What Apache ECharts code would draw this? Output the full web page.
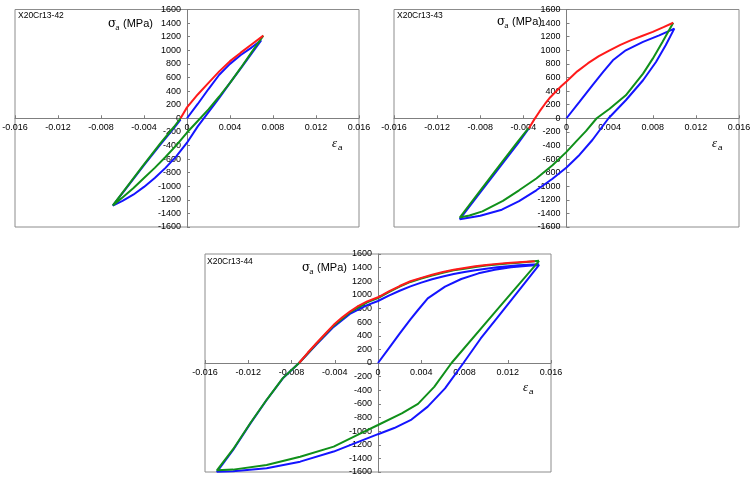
<!DOCTYPE html>
<html>
<head>
<meta charset="utf-8">
<script src="https://cdn.jsdelivr.net/npm/echarts@6/dist/echarts.min.js"></script>
<style>
html, body { margin: 0; padding: 0; background: #fff; }
#myChart { width: 755px; height: 482px; }
</style>
</head>
<body>
<div id="myChart"></div>
<script>
// specimen names
var titles = ['X20Cr13-42', 'X20Cr13-43', 'X20Cr13-44'];

// [strain, stress MPa]
var blue42 = [[0,0],[0.001,210],[0.002,430],[0.003,640],[0.004,800],[0.005,930],[0.006,1040],[0.0069,1145],
  [0.006,950],[0.005,735],[0.004,520],[0.003,300],[0.002,90],[0.001,-120],[0,-360],[-0.001,-560],[-0.002,-730],
  [-0.003,-880],[-0.004,-1010],[-0.005,-1125],[-0.006,-1215],[-0.0069,-1285],
  [-0.0055,-1000],[-0.004,-690],[-0.0025,-390],[-0.0012,-140],[-0.0006,-20]];
var green42 = [[0.0071,1215],[0.006,970],[0.005,740],[0.004,520],[0.003,320],[0.002,130],[0.001,-40],[0,-210],
  [-0.001,-400],[-0.002,-570],[-0.003,-730],[-0.004,-880],[-0.005,-1030],[-0.006,-1165],[-0.0069,-1282],
  [-0.0055,-990],[-0.004,-680],[-0.0025,-375],[-0.0012,-125],[-0.0006,0]];
var red42 = [[-0.0006,0],[0,160],[0.001,350],[0.002,520],[0.003,690],[0.004,840],[0.005,965],[0.006,1085],[0.0071,1215]];

var blue43 = [[0,0],[0.0012,240],[0.0024,485],[0.0034,681],[0.0043,853],[0.0055,1000],[0.0071,1123],[0.0086,1220],[0.0100,1319],
  [0.0092,1074],[0.0083,828],[0.0071,559],[0.0055,265],[0.0039,0],[0.0024,-320],[0.0012,-540],[0,-725],
  [-0.0013,-890],[-0.0028,-1060],[-0.0044,-1220],[-0.006,-1345],[-0.008,-1435],[-0.0099,-1485],
  [-0.008,-1090],[-0.006,-680],[-0.0045,-370],[-0.0035,-150]];
var green43 = [[0.0099,1405],[0.0089,1123],[0.008,877],[0.0071,657],[0.0055,338],[0.004,140],[0.0028,0],[0.0018,-190],
  [0.0009,-340],[0,-495],[-0.0013,-691],[-0.0028,-887],[-0.0044,-1060],[-0.0059,-1215],[-0.0078,-1370],[-0.009,-1430],[-0.0099,-1460],
  [-0.008,-1065],[-0.006,-650],[-0.0045,-340],[-0.0035,-140]];
var red43 = [[-0.0035,-150],[-0.003,-20],[-0.0025,100],[-0.002,210],[-0.0015,310],[-0.001,390],[-0.0005,470],[0,540],
  [0.001,690],[0.002,810],[0.003,915],[0.004,1000],[0.005,1080],[0.006,1150],[0.007,1210],[0.008,1270],[0.009,1340],[0.0099,1405]];

var blue44 = [[0,0],[0.001,215],[0.002,430],[0.003,640],[0.0037,778],[0.0046,949],[0.0062,1120],[0.0077,1233],[0.0093,1316],
  [0.0108,1370],[0.0123,1404],[0.0139,1428],[0.0149,1440],
  [0.013,1060],[0.011,660],[0.0095,360],[0.0079,0],[0.0062,-372],[0.0046,-640],[0.0031,-830],[0.0015,-955],[0,-1045],
  [-0.0017,-1150],[-0.0041,-1300],[-0.0072,-1448],[-0.0103,-1546],[-0.0134,-1590],[-0.0149,-1597],
  [-0.0134,-1277],[-0.0118,-886],[-0.0103,-543],[-0.0088,-225],[-0.0073,0],
  [-0.0057,270],[-0.0041,530],[-0.0026,720],[-0.001,850],[0,910],[0.001,990],[0.002,1060],[0.003,1125],[0.004,1180],
  [0.005,1230],[0.006,1270],[0.007,1305],[0.008,1335],[0.009,1360],[0.010,1385],[0.011,1405],[0.012,1420],[0.013,1435],[0.0149,1450]];
var green44 = [[0.0149,1500],[0.011,780],[0.0068,0],[0.0052,-350],[0.0037,-600],[0.0022,-740],[0,-910],
  [-0.0017,-1040],[-0.0041,-1228],[-0.0072,-1375],[-0.0103,-1497],[-0.0134,-1565],[-0.0149,-1575],
  [-0.0134,-1265],[-0.0118,-880],[-0.0103,-540],[-0.0088,-222],[-0.0073,0],
  [-0.0057,282],[-0.0041,548],[-0.0026,742],[-0.001,890],[0,952],[0.001,1040],[0.002,1120],[0.003,1190],[0.004,1240],
  [0.005,1285],[0.006,1325],[0.007,1360],[0.008,1385],[0.009,1410],[0.010,1430],[0.011,1447],[0.012,1460],[0.013,1472],[0.0149,1500]];
var red44 = [[-0.0073,0],[-0.0065,150],[-0.0057,290],[-0.0049,425],[-0.0041,560],[-0.0033,670],[-0.0026,755],[-0.0018,840],
  [-0.001,905],[0,965],[0.001,1050],[0.002,1130],[0.003,1200],[0.004,1250],[0.005,1295],[0.006,1335],[0.007,1370],
  [0.008,1395],[0.009,1420],[0.010,1440],[0.011,1455],[0.012,1468],[0.013,1480],[0.0145,1495]];

var loops = [[blue42, green42, red42], [blue43, green43, red43], [blue44, green44, red44]];
var colors = ['#1414ff', '#10901a', '#ff1a1a'];

// plot boxes in pixels
var boxes = [
  { left: 15, top: 9.5, width: 344, height: 217.5 },
  { left: 394, top: 9.5, width: 345, height: 217.5 },
  { left: 205, top: 254, width: 346, height: 218 }
];

var font = 'Liberation Sans, Arial, sans-serif';
var grids = [], xAxes = [], yAxes = [], series = [], graphics = [];

for (var i = 0; i < 3; i++) {
  var b = boxes[i];
  grids.push({ left: b.left, top: b.top, width: b.width, height: b.height,
    show: true, borderColor: '#8c8c8c', borderWidth: 1, containLabel: false, outerBoundsMode: 'none' });
  // axes cross in the middle of the box (zero of both scales)
  xAxes.push({
    gridIndex: i, type: 'value', min: -0.016, max: 0.016, interval: 0.004,
    position: 'bottom', offset: -b.height / 2,
    axisLine: { onZero: false, lineStyle: { color: '#7f7f7f', width: 1 } },
    axisTick: { show: true, inside: true, length: 3, lineStyle: { color: '#7f7f7f' } },
    axisLabel: { color: '#000', fontSize: 9, fontFamily: font, margin: 5,
      formatter: function (v) { return Math.abs(v) < 1e-9 ? '0' : v.toFixed(3); } },
    splitLine: { show: false }
  });
  yAxes.push({
    gridIndex: i, type: 'value', min: -1600, max: 1600, interval: 200,
    position: 'left', offset: -b.width / 2,
    axisLine: { onZero: false, lineStyle: { color: '#7f7f7f', width: 1 } },
    axisTick: { show: true, inside: true, length: 3, lineStyle: { color: '#7f7f7f' } },
    axisLabel: { color: '#000', fontSize: 9, fontFamily: font, margin: 6,
      formatter: function (v) { return String(v); } },
    splitLine: { show: false }
  });
  for (var k = 0; k < 3; k++) {
    series.push({
      type: 'line', xAxisIndex: i, yAxisIndex: i, data: loops[i][k],
      showSymbol: false, symbol: 'none', clip: false, smooth: false,
      lineStyle: { color: colors[k], width: 2 }, itemStyle: { color: colors[k] },
      z: 2 + k
    });
  }
}

// text labels: title, sigma_a (MPa), eps_a
var labelPos = [
  { t: [18, 16], s: [108, 24], e: [332, 144] },
  { t: [397, 16], s: [497, 22], e: [712, 144] },
  { t: [207, 262], s: [302, 268], e: [523, 388] }
];
labelPos.forEach(function (p, i) {
  graphics.push({ type: 'text', x: p.t[0], y: p.t[1], z: 10,
    style: { text: titles[i], fontSize: 8.5, fontFamily: font, fill: '#000', verticalAlign: 'middle' } });
  graphics.push({ type: 'text', x: p.s[0], y: p.s[1], z: 10,
    style: { text: 'σ', fontSize: 12, fontFamily: 'DejaVu Serif, serif', fill: '#000', verticalAlign: 'middle' } });
  graphics.push({ type: 'text', x: p.s[0] + 7.5, y: p.s[1] + 4, z: 10,
    style: { text: 'a', fontSize: 7, fontStyle: 'italic', fontFamily: font, fill: '#000', verticalAlign: 'middle' } });
  graphics.push({ type: 'text', x: p.s[0] + 15, y: p.s[1], z: 10,
    style: { text: '(MPa)', fontSize: 11, fontFamily: font, fill: '#000', verticalAlign: 'middle' } });
  graphics.push({ type: 'text', x: p.e[0], y: p.e[1], z: 10,
    style: { text: 'ε', fontSize: 13, fontStyle: 'italic', fontFamily: 'Liberation Serif, serif', fill: '#000', verticalAlign: 'middle' } });
  graphics.push({ type: 'text', x: p.e[0] + 6, y: p.e[1] + 4, z: 10,
    style: { text: 'a', fontSize: 8, fontStyle: 'italic', fontFamily: font, fill: '#000', verticalAlign: 'middle' } });
});

var chart = echarts.init(document.getElementById('myChart'));
chart.setOption({
  animation: false,
  backgroundColor: '#fff',
  grid: grids,
  xAxis: xAxes,
  yAxis: yAxes,
  series: series,
  graphic: graphics
});
</script>
</body>
</html>
